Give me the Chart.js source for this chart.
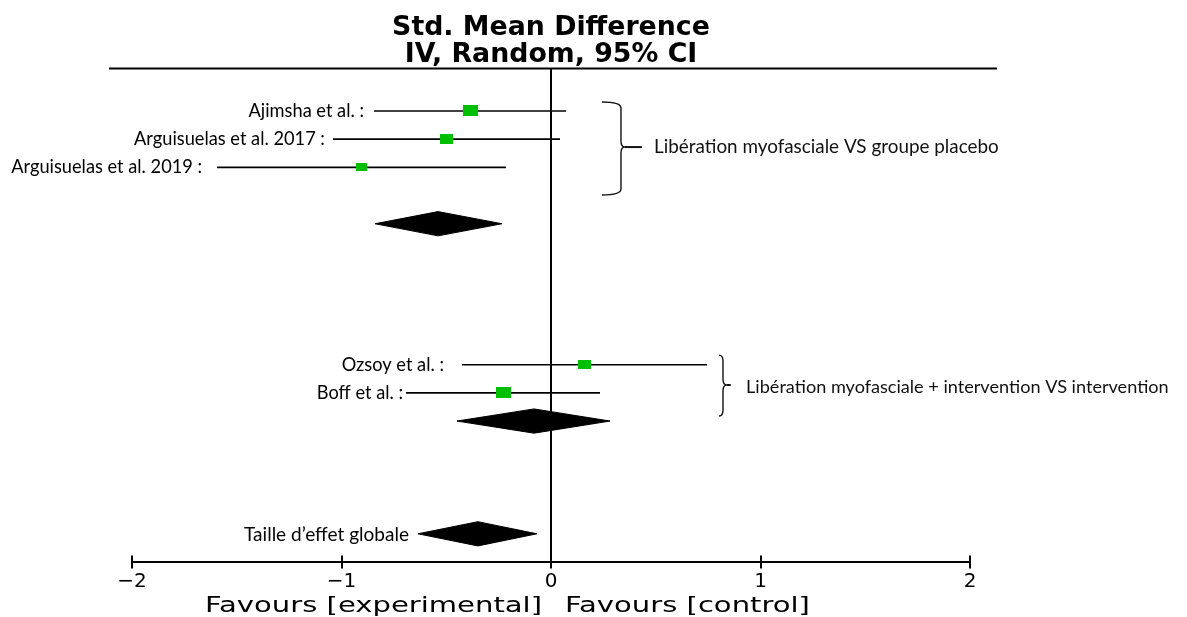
<!DOCTYPE html>
<html><head><meta charset="utf-8">
<script src="https://cdn.jsdelivr.net/npm/chart.js@4.4.1/dist/chart.umd.min.js"></script>
<style>html,body{margin:0;padding:0;background:#fff;} canvas{display:block;}</style>
</head><body>
<canvas id="c" width="1187" height="617" style="width:1187px;height:617px"></canvas>
<script>
// ---------- DATA ----------
const titleLines = ['Std. Mean Difference', 'IV, Random, 95% CI'];
const studyNames = ['Ajimsha et al. :', 'Arguisuelas et al. 2017 :', 'Arguisuelas et al. 2019 :', 'Ozsoy et al. :', 'Boff et al. :'];
const studyEst  = [-0.384, -0.499, -0.905, 0.160, -0.227];
const studyLow  = [-0.845, -1.041, -1.594, -0.425, -0.692];
const studyHigh = [0.072, 0.043, -0.215, 0.745, 0.234];
const studyRow  = [1, 2, 3, 10, 11];

const pooledNames = ['Libération myofasciale VS groupe placebo', 'Libération myofasciale + intervention VS intervention', 'Taille d\u2019effet globale'];
const pooledEst  = [-0.539, -0.081, -0.349];
const pooledLow  = [-0.840, -0.449, -0.635];
const pooledHigh = [-0.234, 0.282, -0.067];
const pooledRow  = [5, 12, 16];

const tickValues = [-2, -1, 0, 1, 2];
const tickLabels = ['\u22122', '\u22121', '0', '1', '2'];
const axisLeftLabel = 'Favours [experimental]';
const axisRightLabel = 'Favours [control]';

// ---------- STYLE ----------
const GREEN = '#00BF00';
const squareSizes = [[15, 11], [13, 10], [11, 8], [13, 9], [15, 11]];
const labelGaps = [10, 8, 15, 18, 3];
const diamondHalf = 0.43;
const rowMin = -0.5, rowMax = 17;
const brackets = [
  {x: 0.334, arm: 0.243, tip: 0.434, top: 0.68, mid: 2.28, bot: 3.98, labelX: 0.492, labelRow: 2.28},
  {x: 0.821, arm: 0.802, tip: 0.858, top: 9.66, mid: 10.72, bot: 11.82, labelX: 0.931, labelRow: 10.78}
];

const mctx = document.createElement('canvas').getContext('2d');
function measure(text, font) { mctx.font = font; return mctx.measureText(text).width; }
function fit(text, family, weight, target) {
  return 100 * target / measure(text, weight + ' 100px ' + family);
}
const LBL = 'Lato, "Open Sans", sans-serif';
const DJ = '"DejaVu Sans"';
const studySize = fit(studyNames[2], LBL, 'normal', 191);
const group1Size = fit(pooledNames[0], LBL, 'normal', 345);
const group2Size = fit(pooledNames[1], LBL, 'normal', 423);
const overallSize = fit(pooledNames[2], LBL, 'normal', 165);
const titleSize = fit(titleLines[0], DJ, 'bold', 318);
const favFont = '21px ' + DJ;
const favScale = 337 / measure(axisLeftLabel, favFont);

function rectImage(w, h, color) {
  const c = document.createElement('canvas');
  c.width = w; c.height = h;
  const g = c.getContext('2d');
  g.fillStyle = color; g.fillRect(0, 0, w, h);
  return c;
}

const datasets = [];
datasets.push({
  data: studyEst.map((v, i) => ({x: v, y: studyRow[i]})),
  showLine: false,
  pointStyle: squareSizes.map(s => rectImage(s[0], s[1], GREEN)),
  pointRadius: 8,
  order: 0
});
studyEst.forEach((v, i) => {
  datasets.push({
    data: [{x: studyLow[i], y: studyRow[i]}, {x: studyHigh[i], y: studyRow[i]}],
    showLine: true, borderColor: '#000', borderWidth: 1.6, pointRadius: 0, order: 1
  });
});
pooledEst.forEach((v, i) => {
  const r = pooledRow[i];
  datasets.push({
    data: [{x: pooledLow[i], y: r}, {x: v, y: r - diamondHalf}, {x: pooledHigh[i], y: r}, {x: v, y: r + diamondHalf}, {x: pooledLow[i], y: r}],
    showLine: true, fill: 'shape', backgroundColor: '#000', borderColor: '#000', borderWidth: 1,
    pointRadius: 0, tension: 0, order: 2
  });
});
datasets.push({
  data: [{x: 0, y: rowMin}, {x: 0, y: rowMax}],
  showLine: true, borderColor: '#000', borderWidth: 2, pointRadius: 0, order: 3
});

function stretchedText(c, text, x, y, align, sx) {
  c.save();
  c.translate(x, y);
  c.scale(sx, 1);
  c.textAlign = align;
  c.fillText(text, 0, 0);
  c.restore();
}

const decor = {
  id: 'decor',
  beforeDraw(chart) {
    const c = chart.ctx;
    c.save(); c.fillStyle = '#fff'; c.fillRect(0, 0, chart.width, chart.height); c.restore();
  },
  afterDraw(chart) {
    const c = chart.ctx, xs = chart.scales.x, ys = chart.scales.y, a = chart.chartArea;
    c.save();
    c.strokeStyle = '#000'; c.fillStyle = '#000';
    c.lineWidth = 2;
    c.beginPath(); c.moveTo(a.left - 23, Math.round(a.top) - 0.5); c.lineTo(a.right + 27, Math.round(a.top) - 0.5); c.stroke();
    xs.ticks.forEach(t => {
      const px = Math.round(xs.getPixelForValue(t.value));
      c.beginPath(); c.moveTo(px, a.bottom - 6.5); c.lineTo(px, a.bottom + 6.5); c.stroke();
    });
    c.textBaseline = 'middle'; c.textAlign = 'right';
    c.font = studySize.toFixed(2) + 'px ' + LBL;
    studyNames.forEach((n, i) => {
      c.fillText(n, xs.getPixelForValue(studyLow[i]) - labelGaps[i], ys.getPixelForValue(studyRow[i]));
    });
    c.font = overallSize.toFixed(2) + 'px ' + LBL;
    c.fillText(pooledNames[2], xs.getPixelForValue(pooledLow[2]) - 9, ys.getPixelForValue(pooledRow[2]) + 1);
    c.textAlign = 'left';
    brackets.forEach((b, i) => {
      const x = xs.getPixelForValue(b.x), xa = xs.getPixelForValue(b.arm), xt = xs.getPixelForValue(b.tip);
      const yt = ys.getPixelForValue(b.top), ym = ys.getPixelForValue(b.mid), yb = ys.getPixelForValue(b.bot);
      const r = Math.min(6, (ym - yt) / 4);
      const k = Math.min(4, (xt - x) / 2);
      c.lineWidth = 1.4; c.strokeStyle = '#111';
      c.beginPath();
      c.moveTo(xa, yt);
      c.quadraticCurveTo(x, yt, x, yt + r);
      c.lineTo(x, ym - r);
      c.quadraticCurveTo(x, ym, x + k, ym);
      c.quadraticCurveTo(x, ym, x, ym + r);
      c.lineTo(x, yb - r);
      c.quadraticCurveTo(x, yb, xa, yb);
      c.stroke();
      c.lineWidth = 2;
      c.beginPath(); c.moveTo(x + k, ym); c.lineTo(xt, ym); c.stroke();
      c.font = (i === 0 ? group1Size : group2Size).toFixed(2) + 'px ' + LBL;
      c.fillStyle = '#111';
      c.fillText(pooledNames[i], xs.getPixelForValue(b.labelX), ys.getPixelForValue(b.labelRow));
    });
    c.fillStyle = '#000';
    c.font = favFont;
    c.textBaseline = 'alphabetic';
    const zx = xs.getPixelForValue(0);
    stretchedText(c, axisLeftLabel, zx - 9, a.bottom + 50, 'right', favScale);
    stretchedText(c, axisRightLabel, zx + 14, a.bottom + 50, 'left', favScale);
    c.restore();
  }
};

new Chart(document.getElementById('c'), {
  type: 'scatter',
  data: {datasets},
  plugins: [decor],
  options: {
    responsive: false,
    animation: false,
    events: [],
    devicePixelRatio: 1,
    layout: {padding: {left: 132, right: 217, top: 0, bottom: 0}},
    plugins: {
      legend: {display: false},
      tooltip: {enabled: false},
      title: {
        display: true, text: titleLines, color: '#000',
        font: {family: DJ, weight: 'bold', size: titleSize, lineHeight: 27.35 / titleSize},
        padding: {top: 14, bottom: 0}
      }
    },
    scales: {
      x: {
        type: 'linear', min: -2, max: 2,
        afterBuildTicks: s => { s.ticks = tickValues.map(v => ({value: v})); },
        afterFit: s => { s.height = 55; },
        grid: {display: false, drawTicks: false},
        border: {display: true, color: '#000', width: 2},
        ticks: {
          color: '#000', padding: 8, autoSkip: false, maxRotation: 0,
          font: {family: DJ, size: 20},
          callback: v => tickLabels[tickValues.indexOf(v)]
        }
      },
      y: {type: 'linear', min: rowMin, max: rowMax, reverse: true, display: false}
    }
  }
});
</script>
</body></html>
